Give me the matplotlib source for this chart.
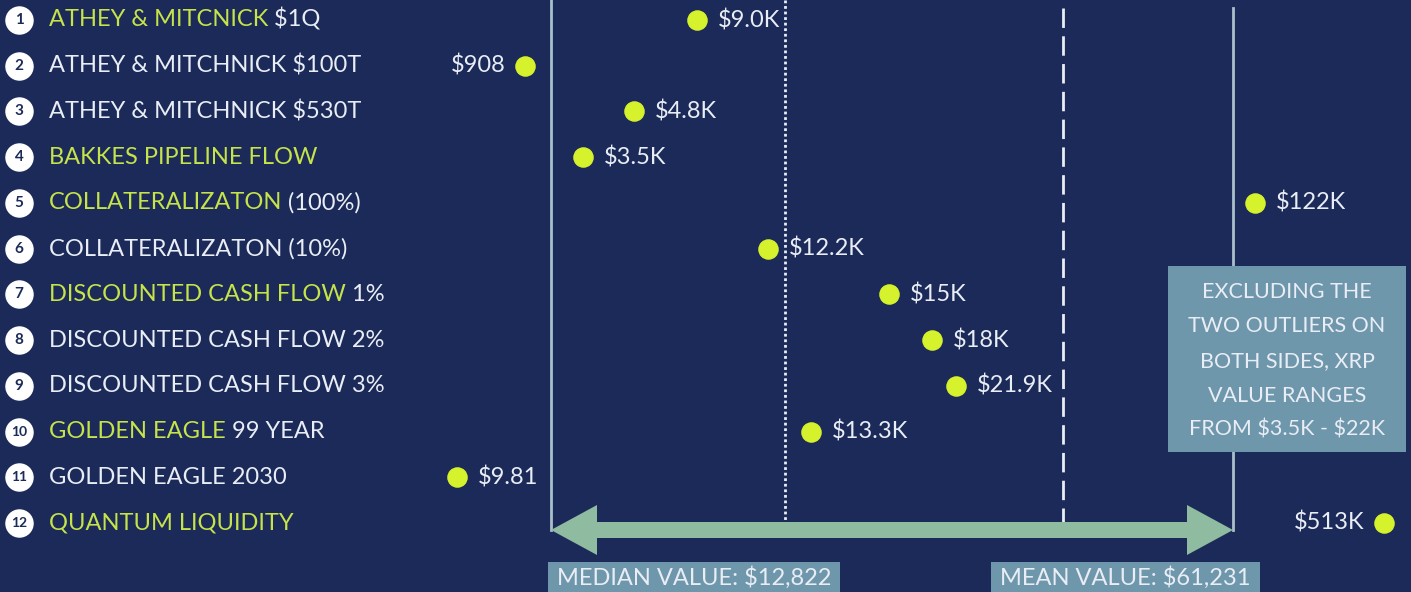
import numpy as np
import matplotlib
matplotlib.use("Agg")
import matplotlib.pyplot as plt
from matplotlib.scale import FuncScale
from matplotlib.patches import Polygon, Rectangle
from matplotlib.transforms import blended_transform_factory

plt.rcParams["text.parse_math"] = False

# ---------------- data ----------------
method_green = ["ATHEY & MITCNICK", "", "", "BAKKES PIPELINE FLOW",
                "COLLATERALIZATON", "", "DISCOUNTED CASH FLOW", "", "",
                "GOLDEN EAGLE", "", "QUANTUM LIQUIDITY"]
method_white = [" $1Q", "ATHEY & MITCHNICK $100T", "ATHEY & MITCHNICK $530T", "",
                " (100%)", "COLLATERALIZATON (10%)", " 1%",
                "DISCOUNTED CASH FLOW 2%", "DISCOUNTED CASH FLOW 3%",
                " 99 YEAR", "GOLDEN EAGLE 2030", ""]
values = [9000, 908, 4800, 3500, 122000, 12200, 15000, 18000, 21900, 13300, 9.81, 513000]
value_labels = ["$9.0K", "$908", "$4.8K", "$3.5K", "$122K", "$12.2K", "$15K",
                "$18K", "$21.9K", "$13.3K", "$9.81", "$513K"]
label_side = ["right", "left", "right", "right", "right", "right", "right",
              "right", "right", "right", "right", "left"]
median_value = 12822
mean_value = 61231
median_text = "MEDIAN VALUE: $12,822"
mean_text = "MEAN VALUE: $61,231"
note_lines = ["EXCLUDING THE", "TWO OUTLIERS ON", "BOTH SIDES, XRP",
              "VALUE RANGES", "FROM $3.5K - $22K"]

# Hand-drawn (non-linear) value axis of the infographic: breakpoints of a
# piecewise-linear scale (value -> horizontal layout units).
scale_vals = [0, 9.81, 908, 3500, 4800, 9000, 12200, 12822, 13300, 15000,
              18000, 21900, 61231, 122000, 513000, 1000000]
scale_units = [440, 457, 525, 583, 634, 697, 768, 785, 811, 889,
               932, 956, 1063, 1255, 1384, 1411]

# ---------------- style ----------------
BG = "#1b2a58"
DOT = "#d6f22c"
GREEN = "#c6e34a"
WHITE = "#e9edf5"
ARROW = "#8fbba0"
BOX = "#6f97ab"
FRAME = "#a9c0cb"
FONT = "Lato"

W, H = 1411, 592
fig = plt.figure(figsize=(W / 100, H / 100), dpi=100, facecolor=BG)


def fx(x):
    return x / W


def fy(y):
    return 1 - y / H


ax = fig.add_axes([fx(440), 0, fx(W - 440), 1])
ax.set_facecolor(BG)
sv = np.array(scale_vals, float)
su = np.array(scale_units, float)
ax.set_xscale(FuncScale(ax, (lambda v: np.interp(v, sv, su),
                             lambda u: np.interp(u, su, sv))))
ax.set_xlim(0, 1000000)
n = len(values)
rows = np.arange(1, n + 1)
step = (523 - 20) / (n - 1)
ax.set_ylim(1 + (H - 20) / step, 1 - 20 / step)
ax.axis("off")

blend = blended_transform_factory(fig.transFigure, ax.transData)

# left labels with numbered circles
ax.scatter([fx(19)] * n, rows, s=380, color="white", transform=blend,
           clip_on=False, zorder=3)
for i, r in enumerate(rows):
    ax.text(fx(19), r, str(i + 1), transform=blend, ha="center",
            va="center", fontsize=11 if i < 9 else 10, fontweight="bold",
            color=BG, family=FONT, zorder=4)
    g, wtxt = method_green[i], method_white[i]
    if g:
        t1 = ax.text(fx(49), r, g, transform=blend, color=GREEN, fontsize=17,
                     family=FONT, va="center")
        if wtxt:
            ax.annotate(wtxt, xy=(1, 0), xycoords=t1, va="bottom",
                        ha="left", color=WHITE, fontsize=17, family=FONT)
    else:
        ax.text(fx(49), r, wtxt, transform=blend, color=WHITE, fontsize=17,
                family=FONT, va="center")

# reference lines (median / mean)
ax.vlines(median_value, 1 - 20 / step, 1 + 505 / step, colors=WHITE,
          linestyles=(0, (1, 1)), linewidth=2, zorder=1)
ax.vlines(mean_value, 1 - 12 / step, 1 + 505 / step, colors=WHITE,
          linestyles=(0, (7, 3)), linewidth=2, zorder=1)

# frame lines + double arrow (decorative layout)
fig.add_artist(plt.Line2D([fx(551), fx(551)], [fy(0), fy(530)],
                          color=FRAME, lw=2, zorder=1))
fig.add_artist(plt.Line2D([fx(1233), fx(1233)], [fy(8), fy(530)],
                          color=FRAME, lw=2, zorder=1))
ay, sh, hh, hl = 530, 8, 25, 46
l, rgt = 551, 1233
pts = [(l, ay), (l + hl, ay - hh), (l + hl, ay - sh), (rgt - hl, ay - sh),
       (rgt - hl, ay - hh), (rgt, ay), (rgt - hl, ay + hh), (rgt - hl, ay + sh),
       (l + hl, ay + sh), (l + hl, ay + hh)]
fig.add_artist(Polygon([(fx(x), fy(y)) for x, y in pts], closed=True,
                       facecolor=ARROW, edgecolor="none", zorder=2))

# dots and value labels
ax.scatter(values, rows, s=190, color=DOT, zorder=5, clip_on=False)
for v, r, lab, side in zip(values, rows, value_labels, label_side):
    off = 15 if side == "right" else -14
    ax.annotate(lab, xy=(v, r), xytext=(off, 0), textcoords="offset points",
                ha="left" if side == "right" else "right", va="center",
                color=WHITE, fontsize=17, family=FONT, zorder=5)

# bottom value boxes
for (x0, x1), txt in [((548, 840), median_text), ((991, 1260), mean_text)]:
    fig.add_artist(Rectangle((fx(x0), fy(H)), fx(x1 - x0), (H - 562) / H,
                             facecolor=BOX, edgecolor="none", zorder=3))
    fig.text(fx((x0 + x1) / 2), fy(578), txt, ha="center", va="center",
             color=WHITE, fontsize=17, family=FONT, zorder=4)

# note box
fig.add_artist(Rectangle((fx(1168), fy(452)), fx(1406 - 1168), (452 - 266) / H,
                         facecolor=BOX, edgecolor="none", zorder=3))
for k, line in enumerate(note_lines):
    fig.text(fx(1287), fy(292 + 34.5 * k), line, ha="center", va="center",
             color=WHITE, fontsize=15.5, family=FONT, zorder=4)

fig.savefig("out.png", dpi=100, facecolor=BG)
